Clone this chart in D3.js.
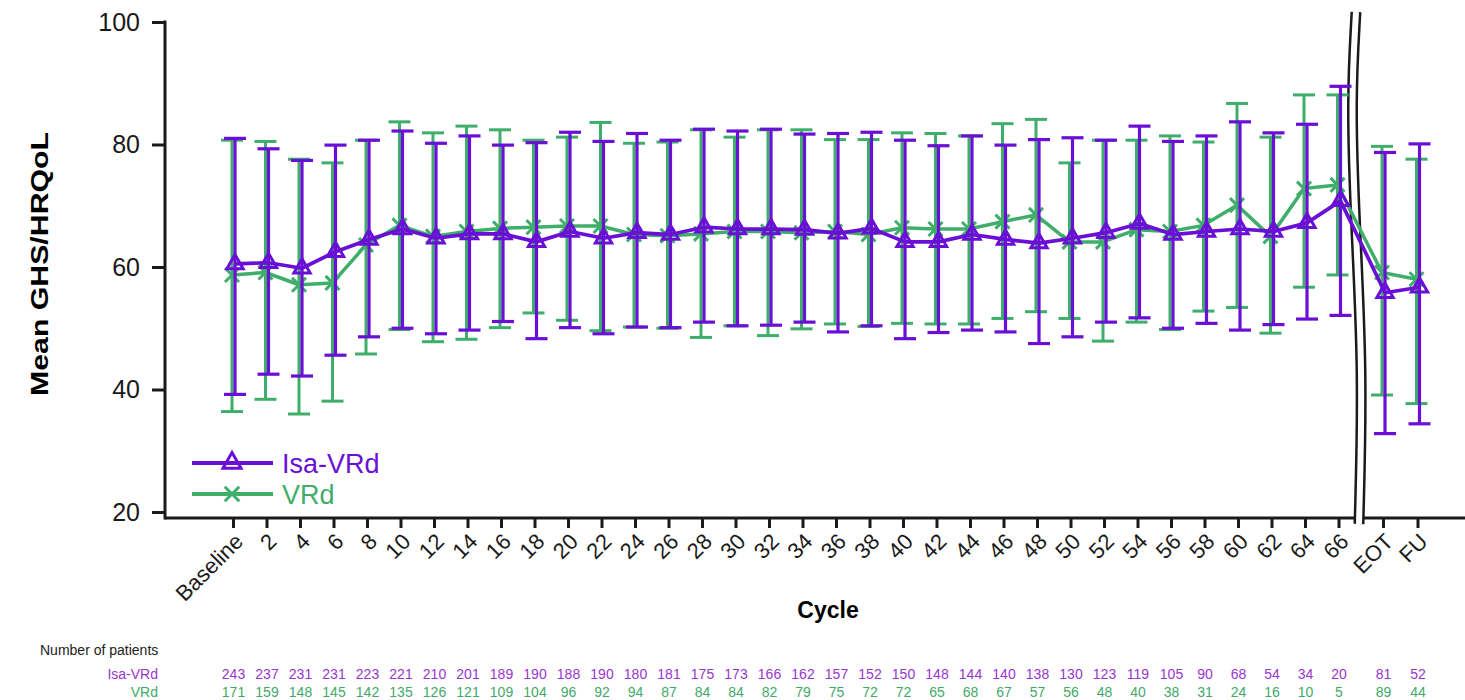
<!DOCTYPE html>
<html>
<head>
<meta charset="utf-8">
<script src="https://cdn.jsdelivr.net/npm/d3@7"></script>
<style>
  body { margin: 0; background: #fff; }
  svg { display: block; font-family: "Liberation Sans", Arial, sans-serif; }
</style>
</head>
<body>
<div id="chart"></div>
<script>
///////////////////////////////// Data /////////////////////////////////
var cycles = ["Baseline","2","4","6","8","10","12","14","16","18","20","22","24","26","28","30","32",
  "34","36","38","40","42","44","46","48","50","52","54","56","58","60","62","64","66"]
var postCats = ["EOT", "FU"]
var categories = cycles.concat(postCats)

var isaMean  = [60.5,60.7,59.8,62.5,64.5,66.2,64.7,65.4,65.4,64.1,65.8,64.7,65.6,65.3,66.5,66.2,66.2,66.1,65.5,66.3,64.1,64.1,65.3,64.5,63.9,64.7,65.6,67.1,65.3,65.8,66.2,65.8,67.2,70.8,55.8,56.7]
var isaUpper = [81.0,79.3,77.4,79.9,80.7,82.2,80.2,81.4,79.9,80.3,82.0,80.5,81.8,80.7,82.5,82.2,82.5,81.7,81.8,82.0,80.7,79.8,81.4,79.9,80.8,81.1,80.7,83.0,80.5,81.4,83.7,81.9,83.3,89.5,78.7,80.1]
var isaLower = [39.2,42.5,42.2,45.6,48.6,50.0,49.1,49.7,51.1,48.3,50.1,49.1,50.2,50.1,51.0,50.4,50.5,51.0,49.4,50.4,48.3,49.3,49.7,49.4,47.5,48.6,51.0,51.7,50.0,50.8,49.7,50.6,51.5,52.1,32.8,34.4]

var vrdMean  = [58.7,59.1,57.1,57.4,63.6,66.8,65.0,65.8,66.3,66.5,66.7,66.7,65.3,65.1,65.4,65.8,65.8,65.6,65.8,65.3,66.4,66.2,66.2,67.4,68.5,64.1,64.1,66.1,65.8,66.8,70.1,65.0,72.8,73.4,59.1,58.0]
var vrdUpper = [80.7,80.5,77.6,77.0,80.7,83.7,81.9,83.0,82.4,80.7,81.2,83.6,80.2,80.4,82.4,81.2,82.4,82.4,80.8,80.8,81.9,81.8,81.4,83.4,84.1,77.0,80.7,80.7,81.4,80.4,86.7,81.2,88.1,88.1,79.7,77.6]
var vrdLower = [36.4,38.4,36.0,38.1,45.8,49.8,47.8,48.2,50.1,52.5,51.3,49.6,50.2,50.0,48.5,50.4,48.8,49.9,50.7,50.3,50.8,50.7,50.7,51.6,52.7,51.6,47.9,51.0,49.8,52.8,53.4,49.2,56.7,58.7,39.1,37.7]

var isaN = [243,237,231,231,223,221,210,201,189,190,188,190,180,181,175,173,166,162,157,152,150,148,144,140,138,130,123,119,105,90,68,54,34,20,81,52]
var vrdN = [171,159,148,145,142,135,126,121,109,104,96,92,94,87,84,84,82,79,75,72,72,65,68,67,57,56,48,40,38,31,24,16,10,5,89,44]

var yTicks = [20, 40, 60, 80, 100]

///////////////////////////////// Setup /////////////////////////////////
var totalWidth = 1465, totalHeight = 700
var purple = "#6a0fd6", green = "#3fae6a"
var purpleText = "#9a35cf", greenText = "#3faa68"

var svg = d3.select("#chart").append("svg")
  .attr("width", totalWidth)
  .attr("height", totalHeight)

var yScale = d3.scaleLinear().domain([20, 100]).range([512, 22])
var xMain = d3.scalePoint().domain(cycles).range([233.5, 1339])
var xPost = d3.scalePoint().domain(postCats).range([1383.5, 1418])
function x(c) { return postCats.indexOf(c) >= 0 ? xPost(c) : xMain(c) }

var axisY = 518, axisX = 165

var isaData = categories.map((c, i) => ({cat: c, mean: isaMean[i], up: isaUpper[i], lo: isaLower[i]}))
var vrdData = categories.map((c, i) => ({cat: c, mean: vrdMean[i], up: vrdUpper[i], lo: vrdLower[i]}))

///////////////////////////////// Axes /////////////////////////////////
// y axis
var yAxis = svg.append("g")
  .attr("transform", "translate(" + axisX + ",0)")
  .call(d3.axisLeft(yScale).tickValues(yTicks).tickSize(13).tickPadding(12))
yAxis.select(".domain").remove()
yAxis.selectAll(".tick line").attr("stroke", "#1a1a1a").attr("stroke-width", 3)
yAxis.selectAll(".tick text").attr("font-size", 25).attr("fill", "#1a1a1a")
  .attr("font-family", "Liberation Sans, Arial, sans-serif")

svg.append("line")
  .attr("x1", axisX).attr("x2", axisX)
  .attr("y1", yScale(100) - 1.5).attr("y2", axisY + 1.5)
  .attr("stroke", "#1a1a1a").attr("stroke-width", 3)

// x axis line
svg.append("line")
  .attr("x1", axisX).attr("x2", 1465)
  .attr("y1", axisY).attr("y2", axisY)
  .attr("stroke", "#1a1a1a").attr("stroke-width", 3)

// x ticks + rotated labels
var xt = svg.append("g").selectAll("g").data(categories).enter().append("g")
  .attr("transform", d => "translate(" + x(d) + "," + axisY + ")")
xt.append("line").attr("y1", 0).attr("y2", 10)
  .attr("stroke", "#1a1a1a").attr("stroke-width", 3)
xt.append("text")
  .attr("transform", "translate(0,14) rotate(-45)")
  .attr("text-anchor", "end")
  .attr("dy", "0.7em")
  .attr("font-size", 22)
  .attr("fill", "#1a1a1a")
  .text(d => d)

// axis break (double wavy line)
var breakPts = [[1356, 12], [1351, 100], [1355, 220], [1363, 370], [1359, 524]]
var breakLine = d3.line().curve(d3.curveBasis)
svg.append("path").attr("d", breakLine(breakPts))
  .attr("fill", "none").attr("stroke", "#1a1a1a").attr("stroke-width", 11)
svg.append("path").attr("d", breakLine(breakPts))
  .attr("fill", "none").attr("stroke", "#fff").attr("stroke-width", 6)

// axis titles
svg.append("text")
  .attr("transform", "translate(48,264) rotate(-90)")
  .attr("text-anchor", "middle")
  .attr("font-size", 24).attr("font-weight", "bold")
  .attr("textLength", 264).attr("lengthAdjust", "spacingAndGlyphs")
  .text("Mean GHS/HRQoL")

svg.append("text")
  .attr("x", 828).attr("y", 618)
  .attr("text-anchor", "middle")
  .attr("font-size", 23).attr("font-weight", "bold")
  .text("Cycle")

///////////////////////////////// Series /////////////////////////////////
function drawSeries(data, color, off, lw, marker) {
  var g = svg.append("g")
  var bars = g.selectAll(".bar").data(data).enter().append("g")
    .attr("transform", d => "translate(" + (x(d.cat) + off) + ",0)")
  bars.append("line").attr("y1", d => yScale(d.up)).attr("y2", d => yScale(d.lo))
    .attr("stroke", color).attr("stroke-width", lw)
  bars.append("line").attr("x1", -11).attr("x2", 11)
    .attr("y1", d => yScale(d.up)).attr("y2", d => yScale(d.up))
    .attr("stroke", color).attr("stroke-width", lw)
  bars.append("line").attr("x1", -11).attr("x2", 11)
    .attr("y1", d => yScale(d.lo)).attr("y2", d => yScale(d.lo))
    .attr("stroke", color).attr("stroke-width", lw)

  var line = d3.line().x(d => x(d.cat) + off).y(d => yScale(d.mean))
  g.append("path").datum(data).attr("d", line)
    .attr("fill", "none").attr("stroke", color).attr("stroke-width", lw + 0.5)
    .attr("stroke-linejoin", "round")

  g.selectAll(".pt").data(data).enter().append("path")
    .attr("transform", d => "translate(" + (x(d.cat) + off) + "," + yScale(d.mean) + ")")
    .attr("d", d3.symbol(marker, marker === d3.symbolTriangle ? 115 : 130))
    .attr("fill", "none").attr("stroke", color).attr("stroke-width", 3)
}

drawSeries(vrdData, green, -1.5, 3, d3.symbolX)
drawSeries(isaData, purple, 1.5, 3.2, d3.symbolTriangle)

///////////////////////////////// Legend /////////////////////////////////
var legend = [
  {name: "Isa-VRd", color: purple, marker: d3.symbolTriangle, y: 463},
  {name: "VRd", color: green, marker: d3.symbolX, y: 494}
]
var lg = svg.append("g").selectAll("g").data(legend).enter().append("g")
  .attr("transform", d => "translate(0," + d.y + ")")
lg.append("line").attr("x1", 192).attr("x2", 273)
  .attr("stroke", d => d.color).attr("stroke-width", 4)
lg.append("path").attr("transform", "translate(232,0)")
  .attr("d", d => d3.symbol(d.marker, d.marker === d3.symbolTriangle ? 140 : 140)())
  .attr("fill", "none").attr("stroke", d => d.color).attr("stroke-width", 3)
lg.append("text").attr("x", 282).attr("dy", "0.36em")
  .attr("font-size", 27).attr("fill", d => d.color)
  .text(d => d.name)

///////////////////////////////// Number of patients /////////////////////////////////
svg.append("text").attr("x", 40).attr("y", 655)
  .attr("font-size", 14).attr("fill", "#222")
  .text("Number of patients")

var rows = [
  {name: "Isa-VRd", vals: isaN, color: purpleText, y: 679},
  {name: "VRd", vals: vrdN, color: greenText, y: 697}
]
rows.forEach(r => {
  svg.append("text").attr("x", 158).attr("y", r.y)
    .attr("text-anchor", "end").attr("font-size", 14).attr("fill", r.color)
    .text(r.name)
  svg.append("g").selectAll("text").data(categories).enter().append("text")
    .attr("x", d => x(d)).attr("y", r.y)
    .attr("text-anchor", "middle").attr("font-size", 14).attr("fill", r.color)
    .text((d, i) => r.vals[i])
})
</script>
</body>
</html>
